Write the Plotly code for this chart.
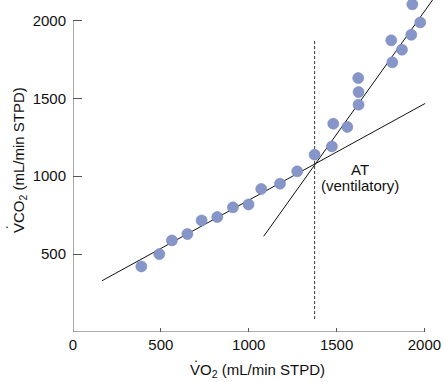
import plotly.graph_objects as go

# Data
vo2 = [389, 491, 563, 651, 732, 821, 910, 999, 1071, 1178, 1276, 1375,
       1473, 1481, 1561, 1625, 1625, 1623, 1817, 1811, 1872, 1925, 1976, 1931]
vco2 = [421, 500, 588, 629, 716, 738, 800, 819, 918, 952, 1031, 1138,
        1191, 1337, 1316, 1459, 1540, 1630, 1731, 1872, 1812, 1908, 1987, 2103]

line1_x = [165, 2004]
line1_y = [329, 1467]
line2_x = [1085, 2046]
line2_y = [614, 2131]
at_x = [1375, 1375]
at_y = [83, 1872]

x_ticks = [0, 500, 1000, 1500, 2000]
y_ticks = [500, 1000, 1500, 2000]

FONT = "Liberation Sans"

fig = go.Figure()
fig.add_trace(go.Scatter(x=line1_x, y=line1_y, mode="lines",
                         line=dict(color="#111111", width=1), hoverinfo="skip"))
fig.add_trace(go.Scatter(x=line2_x, y=line2_y, mode="lines",
                         line=dict(color="#111111", width=1), hoverinfo="skip"))
fig.add_trace(go.Scatter(x=at_x, y=at_y, mode="lines",
                         line=dict(color="#333333", width=1, dash="3px,2px"), hoverinfo="skip"))
fig.add_trace(go.Scatter(x=vo2, y=vco2, mode="markers",
                         marker=dict(size=11, color="#8696c9",
                                     line=dict(width=0.6, color="#7787bd"))))

# axis lines ending at 2000
fig.add_shape(type="line", x0=0, y0=0, x1=0, y1=2000, xref="x", yref="y",
              line=dict(color="#555555", width=1))
fig.add_shape(type="line", x0=0, y0=0, x1=2000, y1=0, xref="x", yref="y",
              line=dict(color="#555555", width=1))

fig.add_annotation(x=1631, y=1040, text="AT", showarrow=False,
                   font=dict(size=15, color="#111111", family=FONT))
fig.add_annotation(x=1631, y=939, text="(ventilatory)", showarrow=False,
                   font=dict(size=15, color="#111111", family=FONT))

# axis titles
fig.add_annotation(xref="paper", yref="paper", x=(257 - 73) / 362, y=(332 - 370) / 332,
                   text="VO<sub>2</sub> (mL/min STPD)", showarrow=False,
                   xanchor="center", yanchor="middle",
                   font=dict(size=15, color="#111111", family=FONT))
fig.add_annotation(xref="paper", yref="paper", x=(19 - 73) / 362, y=(332 - 160) / 332,
                   text="VCO<sub>2</sub> (mL/min STPD)", showarrow=False,
                   textangle=-90, xanchor="center", yanchor="middle",
                   font=dict(size=15, color="#111111", family=FONT))
# rate dots over the V's
fig.add_annotation(xref="paper", yref="paper", x=(196 - 73) / 362, y=(332 - 361) / 332,
                   text="•", showarrow=False, xanchor="center", yanchor="middle",
                   font=dict(size=6, color="#111111", family=FONT))
fig.add_annotation(xref="paper", yref="paper", x=(7 - 73) / 362, y=(332 - 227) / 332,
                   text="•", showarrow=False, xanchor="center", yanchor="middle",
                   font=dict(size=6, color="#111111", family=FONT))

fig.update_layout(
    width=443, height=382,
    margin=dict(l=73, r=8, t=0, b=50),
    plot_bgcolor="white", paper_bgcolor="white",
    showlegend=False,
    font=dict(family=FONT, size=15, color="#111111"),
    xaxis=dict(range=[0, 2060], tickvals=x_ticks, ticktext=[str(v) for v in x_ticks],
               ticks="inside", ticklen=4, tickcolor="#555555", showgrid=False,
               zeroline=False, showline=False, automargin=False,
               ticklabeloverflow="allow", ticklabelstandoff=2,
               tickfont=dict(size=15, family=FONT, color="#111111")),
    yaxis=dict(range=[0, 2131], tickvals=y_ticks, ticktext=[str(v) for v in y_ticks],
               ticks="inside", ticklen=9, tickcolor="#555555", showgrid=False,
               zeroline=False, showline=False, automargin=False,
               ticklabeloverflow="allow", ticklabelstandoff=6,
               tickfont=dict(size=15, family=FONT, color="#111111")),
)

fig.write_html("out.html", config={"displayModeBar": False},
               post_script="document.body.style.margin='0';document.body.style.overflow='hidden';")
